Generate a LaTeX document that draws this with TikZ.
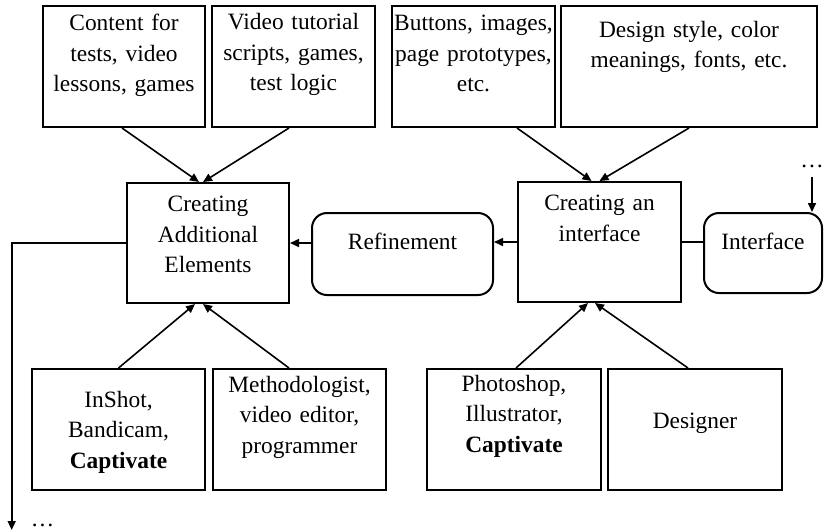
\documentclass[tikz,border=0pt]{standalone}
\usepackage{fontspec}
\setmainfont{Liberation Serif}
\usetikzlibrary{
	arrows.meta,
	positioning
}
\tikzset{
	>={Triangle[length=4.5pt,width=4pt]},
	blocknode/.style={draw, line width=1pt, align=center, inner xsep=0pt, inner ysep=0pt, font=\fontsize{11.7}{15.3}\selectfont},
	roundnode/.style={blocknode, rounded corners=7.5pt},
	boxdim/.style n args={3}{text width=#1, text height=#2, text depth=#3},
	graphedge/.style={line width=0.8pt},
	dotnode/.style={inner sep=0pt, anchor=base, font=\fontsize{11.7}{15.3}\selectfont}
}

\begin{document}
\begin{tikzpicture}[x=0.5pt, y=-0.5pt]
	\useasboundingbox (0,0) rectangle (824,531);

	% top row
	\node[blocknode, boxdim={81pt}{12.25pt}{48.25pt}] (content) at (124,66.5) {Content for\\tests, video\\lessons, games};
	\node[blocknode, boxdim={81.5pt}{11.75pt}{48.75pt}, right = 2.5pt of content] (scripts) {Video tutorial\\scripts, games,\\test logic};
	\node[blocknode, boxdim={81.5pt}{12.25pt}{48.25pt}, right = 7.5pt of scripts] (buttons) {Buttons, images,\\page prototypes,\\etc.};
	\node[blocknode, boxdim={128pt}{15.5pt}{45pt}, right = 2pt of buttons] (style) {Design style, color\\meanings, fonts, etc.};

	% middle row
	\node[blocknode, boxdim={81pt}{14.25pt}{45.75pt}] (additional) at (208,243) {Creating\\Additional\\Elements};
	\node[roundnode, boxdim={90.5pt}{18pt}{23pt}] (refine) at (402.5,254) {Refinement};
	\node[blocknode, boxdim={81.5pt}{14.25pt}{45.75pt}] (creating) at (599.5,242) {Creating an\\interface};
	\node[roundnode, boxdim={59pt}{18pt}{22pt}] (iface) at (763,253) {Interface};

	% bottom row
	\node[blocknode, boxdim={86.5pt}{19pt}{41.5pt}] (tools) at (118.5,429.5) {InShot,\\Bandicam,\\\textbf{Captivate}};
	\node[blocknode, boxdim={86.5pt}{11.5pt}{49pt}, right = 3pt of tools] (staff) {Methodologist,\\video editor,\\programmer};
	\node[blocknode, boxdim={87pt}{11pt}{49.5pt}, right = 19.5pt of staff] (editors) {Photoshop,\\Illustrator,\\\textbf{Captivate}};
	\node[blocknode, boxdim={87pt}{29.5pt}{31pt}, right = 2.5pt of editors] (designer) {Designer};

	\node[dotnode] (dotsR) at (812,167) {…};
	\node[dotnode] (dotsL) at (42.5,526) {…};
	\coordinate (outL) at (11.7,530);

	\draw[graphedge,->] ([xshift=-1pt]content.south) -- ([xshift=-4.5pt]additional.north);
	\draw[graphedge,->] ([xshift=-2.25pt]scripts.south) -- ([xshift=-2.5pt]additional.north);
	\draw[graphedge,->] ([xshift=21.75pt]buttons.south) -- ([xshift=-4pt]creating.north);
	\draw[graphedge,->] (style.south) -- (creating.north);
	\draw[graphedge,->] (tools.north) -- ([xshift=-6.5pt]additional.south);
	\draw[graphedge,->] ([xshift=-5.25pt]staff.north) -- ([xshift=-2.5pt]additional.south);
	\draw[graphedge,->] ([xshift=1pt]editors.north) -- ([xshift=-5.75pt]creating.south);
	\draw[graphedge,->] ([xshift=-3.5pt]designer.north) -- ([xshift=-2.25pt]creating.south);
	\draw[graphedge,->] (creating.west) -- (creating.west -| refine.east);
	\draw[graphedge,->] (additional.east -| refine.west) -- (additional.east);
	\draw[graphedge,-] (creating.east) -- (creating.east -| iface.west);
	\draw[graphedge,->] (additional.west) -| (outL);
	\draw[graphedge,->] ([yshift=-5pt]dotsR.base) -- (dotsR.base |- iface.north);
\end{tikzpicture}
\end{document}
